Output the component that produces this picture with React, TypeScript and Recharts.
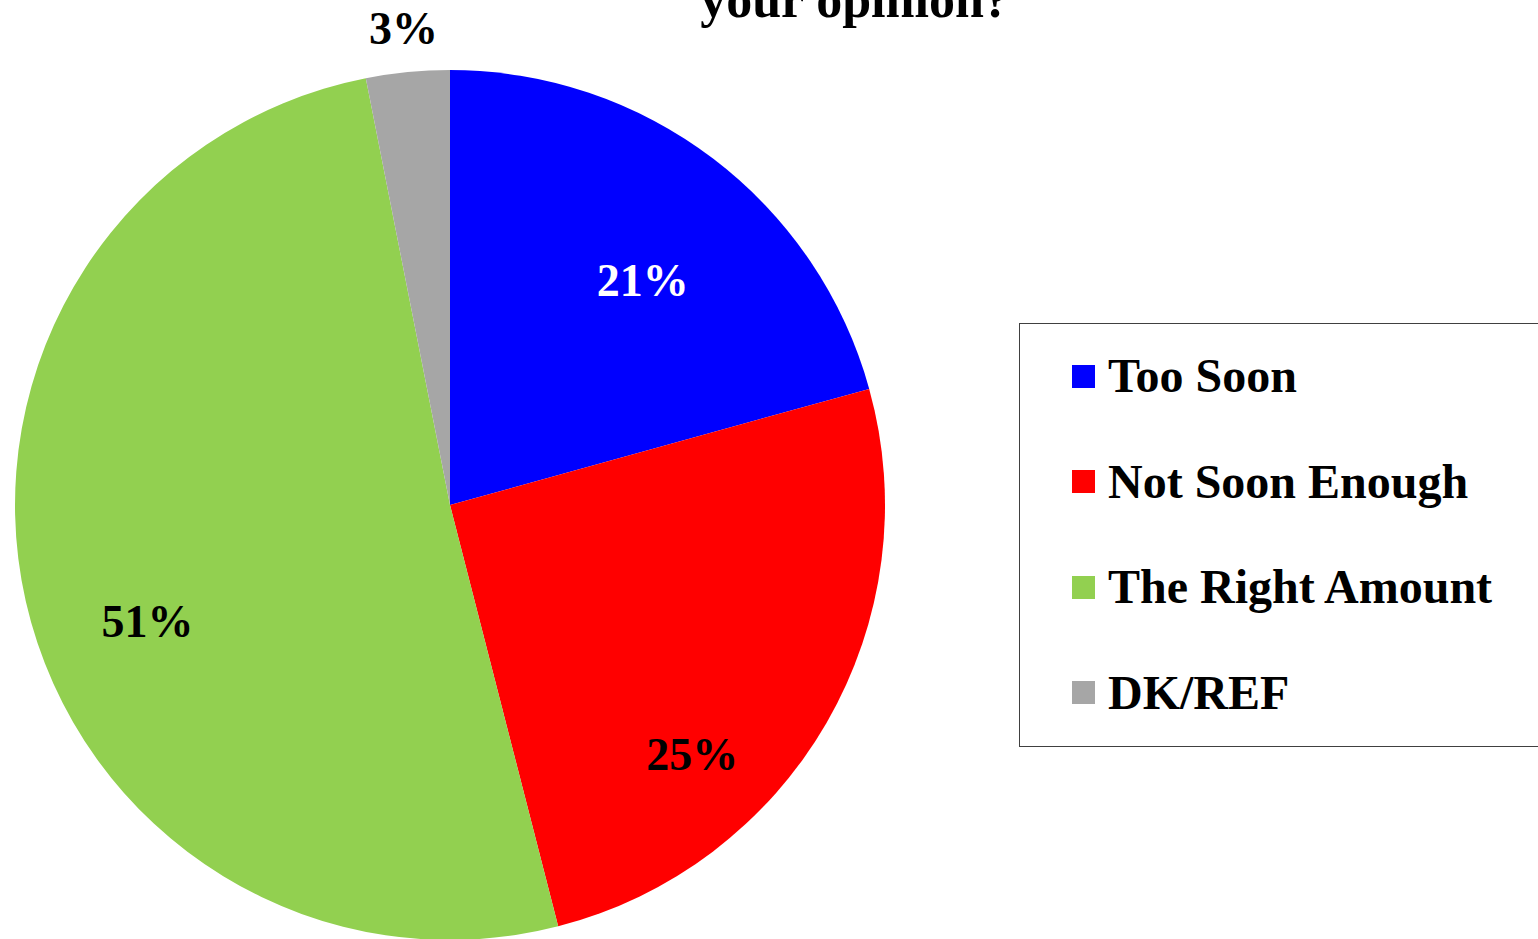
import { PieChart, Pie, Cell } from "recharts";

const categories = ["Too Soon", "Not Soon Enough", "The Right Amount", "DK/REF"];
// unrounded shares; labels show them rounded
const shares = [20.7, 25.3, 50.9, 3.1];
const colors = ["#0000FF", "#FF0000", "#92D050", "#A6A6A6"];
const labelColors = ["#FFFFFF", "#000000", "#000000", "#000000"];
// label placement per slice: radius factor and angle nudge (degrees)
const labelRadius = [0.68, 0.8, 0.745, 1.1];
const labelShift = [-3.4, -15.8, 8.2, 0];

const data = categories.map((name, i) => ({ name, value: shares[i] }));

const serif = "'Liberation Serif', 'Times New Roman', serif";

const RADIAN = Math.PI / 180;

function renderLabel(props: any) {
  const { cx, cy, midAngle, outerRadius, index, value } = props;
  const r = outerRadius * labelRadius[index];
  const a = (midAngle + labelShift[index]) * RADIAN;
  const x = cx + r * Math.cos(a);
  const y = cy - r * Math.sin(a);
  return (
    <text
      x={x}
      y={y}
      fill={labelColors[index]}
      textAnchor="middle"
      dominantBaseline="central"
      fontFamily={serif}
      fontWeight="bold"
      fontSize={46}
    >
      {`${Math.round(value)}%`}
    </text>
  );
}

function LegendBox() {
  return (
    <div
      style={{
        position: "absolute",
        left: 1019,
        top: 323,
        border: "1.5px solid #404040",
        width: 540,
        height: 424,
        boxSizing: "border-box",
        background: "#fff",
      }}
    >
      {categories.map((name, i) => (
        <div
          key={name}
          style={{
            position: "absolute",
            left: 52,
            top: 52 + i * 105.5 - 25,
            height: 50,
            display: "flex",
            alignItems: "center",
          }}
        >
          <span
            style={{
              width: 23,
              height: 23,
              background: colors[i],
              display: "inline-block",
              marginRight: 13,
            }}
          />
          <span
            style={{
              fontFamily: serif,
              fontWeight: "bold",
              fontSize: 48,
              lineHeight: "50px",
              color: "#000",
              whiteSpace: "nowrap",
            }}
          >
            {name}
          </span>
        </div>
      ))}
    </div>
  );
}

export default function App() {
  return (
    <div
      style={{
        position: "fixed",
        top: 0,
        left: 0,
        width: 1538,
        height: 939,
        overflow: "hidden",
        background: "#fff",
      }}
    >
      <PieChart width={1538} height={939} margin={{ top: 0, right: 0, bottom: 0, left: 0 }}>
        <Pie
          data={data}
          dataKey="value"
          nameKey="name"
          cx={450}
          cy={505}
          outerRadius={435}
          startAngle={90}
          endAngle={-270}
          stroke="none"
          label={renderLabel}
          labelLine={false}
          isAnimationActive={false}
        >
          {data.map((d, i) => (
            <Cell key={d.name} fill={colors[i]} />
          ))}
        </Pie>
      </PieChart>
      <div
        style={{
          position: "absolute",
          top: -26,
          left: 855,
          transform: "translateX(-50%)",
          fontFamily: serif,
          fontWeight: "bold",
          fontSize: 52,
          lineHeight: 1,
          whiteSpace: "nowrap",
          color: "#000",
        }}
      >
        your opinion?
      </div>
      <LegendBox />
    </div>
  );
}
